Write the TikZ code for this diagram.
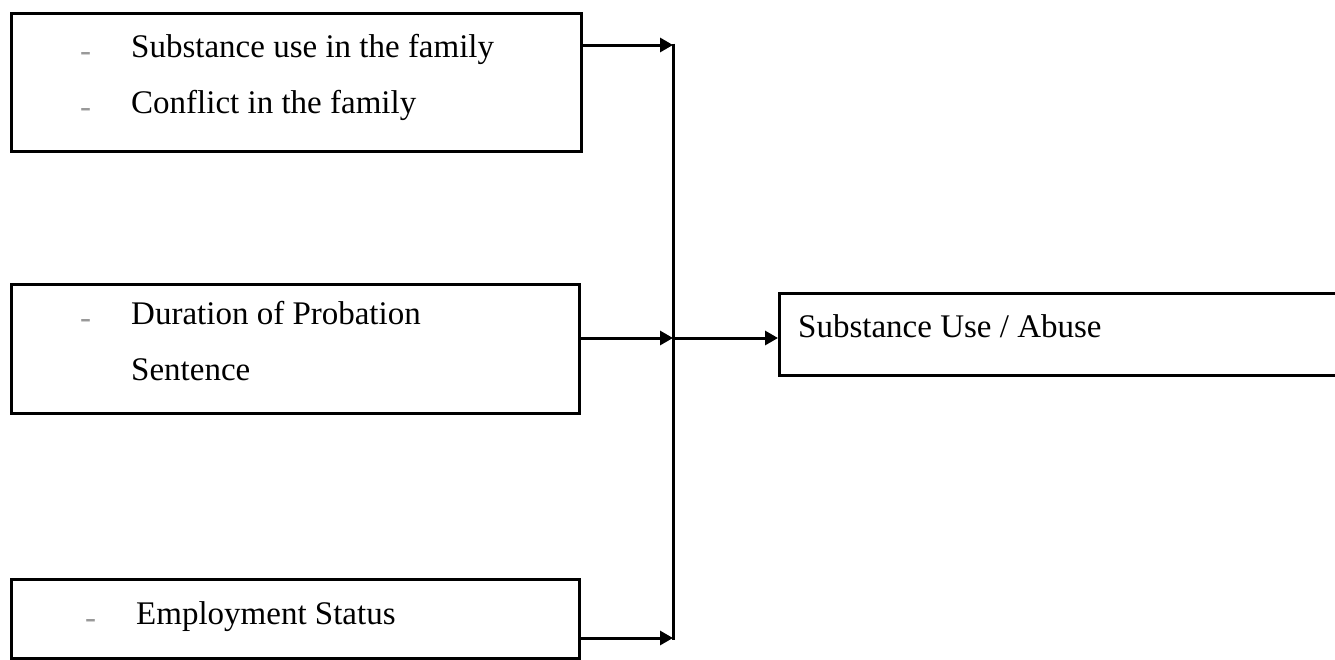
\documentclass[tikz,border=0pt]{standalone}
\usepackage{fontspec}
\setmainfont{Liberation Serif}
\usetikzlibrary{arrows.meta}

\tikzset{
	factorbox/.style={draw=black, line width=2.5pt, rectangle, anchor=north west, inner sep=0pt},
	itemtext/.style={anchor=base west, inner sep=0pt, font=\fontsize{33}{40}\selectfont},
	bulletmark/.style={anchor=base west, inner sep=0pt, yshift=-4pt, text=black!40, font=\fontsize{33}{40}\selectfont},
	arr/.style={line width=3pt, -{Triangle[length=13pt,width=14pt]}},
	link/.style={line width=3pt}
}

\begin{document}
\begin{tikzpicture}[x=1pt, y=-1pt]
	\useasboundingbox (0,0) rectangle (1335,659);

	% Einflussfaktoren links
	\node[factorbox, minimum width=570pt, minimum height=138pt] (fam) at (10,12) {};
	\node[bulletmark] (b1) at (80,57) {-};
	\node[itemtext] (t1) at (131,57) {Substance use in the family};
	\node[bulletmark] (b2) at (80,113) {-};
	\node[itemtext] (t2) at (131,113) {Conflict in the family};

	\node[factorbox, minimum width=568pt, minimum height=129pt] (prob) at (10,283) {};
	\node[bulletmark] (b3) at (80,324) {-};
	\node[itemtext] (t3) at (131,324) {Duration of Probation};
	\node[itemtext] (t4) at (131,380) {Sentence};

	\node[factorbox, minimum width=568pt, minimum height=79pt] (emp) at (10,578) {};
	\node[bulletmark] (b4) at (85,624) {-};
	\node[itemtext] (t5) at (136,624) {Employment Status};

	% Ergebnis rechts
	\node[factorbox, minimum width=570pt, minimum height=82pt] (abuse) at (778,292) {};
	\node[itemtext] (t6) at (798,337) {Substance Use / Abuse};

	% Verbindungen
	\coordinate (j1) at (673,45);
	\coordinate (j2) at (673,338);
	\coordinate (j3) at (673,638);
	\draw[link] ([yshift=1.5pt]j1) -- ([yshift=-1.5pt]j3);
	\draw[arr] (fam.east |- j1) -- (j1);
	\draw[arr] (prob.east |- j2) -- (j2);
	\draw[arr] (emp.east |- j3) -- (j3);
	\draw[arr] (j2) -- (abuse.west |- j2);
\end{tikzpicture}
\end{document}
